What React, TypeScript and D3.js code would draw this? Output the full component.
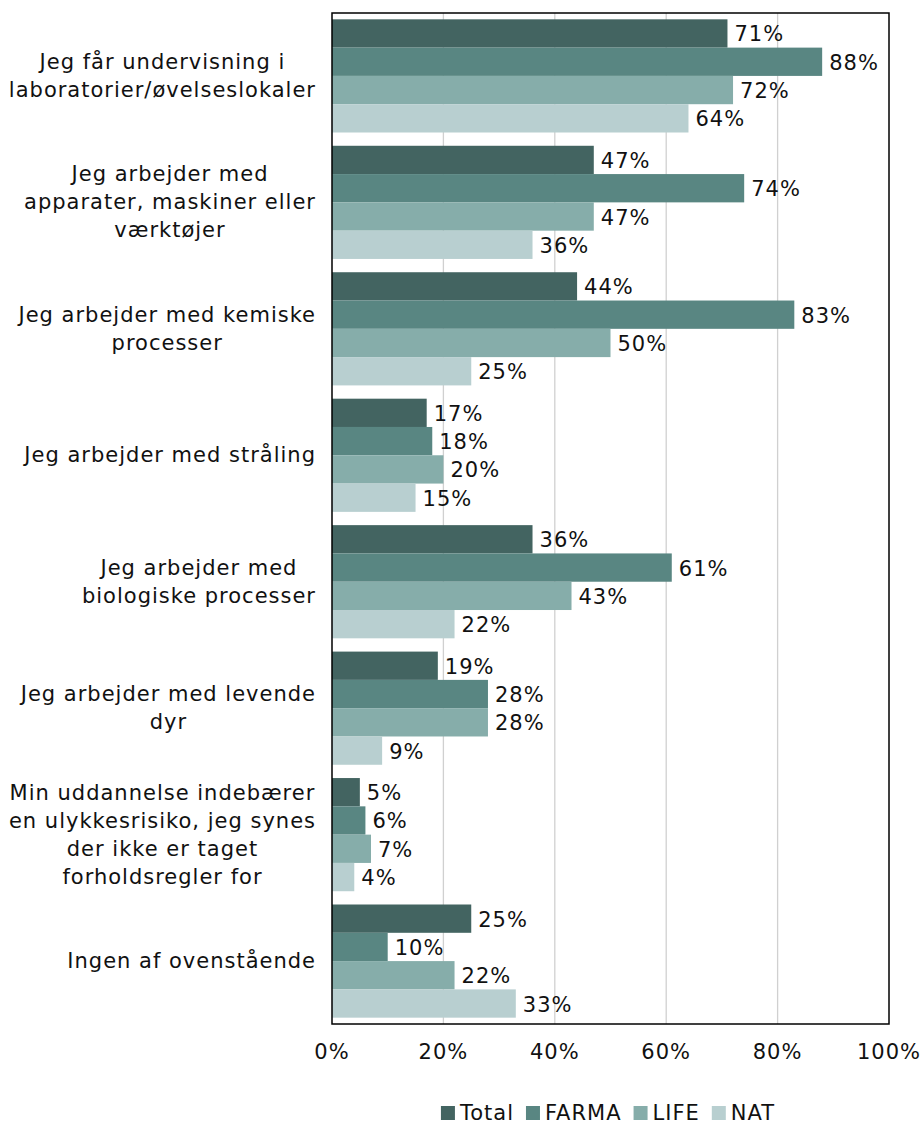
import React from "react";
import * as d3 from "d3";

const categories = [
  ["Jeg får undervisning i", "laboratorier/øvelseslokaler"],
  ["Jeg arbejder med", "apparater, maskiner eller", "værktøjer"],
  ["Jeg arbejder med kemiske", "processer"],
  ["Jeg arbejder med stråling"],
  ["Jeg arbejder med", "biologiske processer"],
  ["Jeg arbejder med levende", "dyr"],
  ["Min uddannelse indebærer", "en ulykkesrisiko, jeg synes", "der ikke er taget", "forholdsregler for"],
  ["Ingen af ovenstående"],
];
const seriesNames = ["Total", "FARMA", "LIFE", "NAT"];
const totalValues = [71, 47, 44, 17, 36, 19, 5, 25];
const farmaValues = [88, 74, 83, 18, 61, 28, 6, 10];
const lifeValues = [72, 47, 50, 20, 43, 28, 7, 22];
const natValues = [64, 36, 25, 15, 22, 9, 4, 33];
const xTicks = [0, 20, 40, 60, 80, 100];

const colors = ["#436461", "#598682", "#86adaa", "#b8cfd0"];
const FONT = "DejaVu Sans";
const FS = 21;
const LS = 1.0;

function measure(t: string) {
  const c = document.createElement("canvas").getContext("2d")!;
  c.font = `${FS}px "${FONT}"`;
  return c.measureText(t).width + LS * t.length;
}

export default function App() {
  const W = 924, H = 1124;
  const left = 332, right = 889, top = 13, bottom = 1024;
  const series = [totalValues, farmaValues, lifeValues, natValues];
  const x = d3.scaleLinear().domain([0, 100]).range([left, right]);
  const y0 = d3.scaleBand<number>().domain(d3.range(categories.length)).range([top, bottom]).paddingInner(0.105).paddingOuter(0.05);
  const y1 = d3.scaleBand<number>().domain(d3.range(seriesNames.length)).range([0, y0.bandwidth()]);
  const labelRight = 316;
  const lineH = 28;

  const sq = 14, gapSq = 5, gapItem = 12;
  const items = seriesNames.map((n) => ({ n, w: measure(n) }));
  const totalW = items.reduce((s, it) => s + sq + gapSq + it.w, 0) + gapItem * (items.length - 1);
  let lx = 608 - totalW / 2;
  const legendY = 1113;

  return (
    <svg width={W} height={H} style={{ position: "absolute", left: 0, top: 0 }} fontFamily={FONT} fontSize={FS} letterSpacing={LS}>
      <rect width={W} height={H} fill="#fff" />
      {xTicks.slice(1, -1).map((t) => (
        <line key={t} x1={x(t)} x2={x(t)} y1={top} y2={bottom} stroke="#d0d0d0" strokeWidth={1.3} />
      ))}
      {categories.map((_, ci) =>
        series.map((vals, si) => {
          const yy = y0(ci)! + y1(si)!;
          const v = vals[ci];
          return (
            <g key={`${ci}-${si}`}>
              <rect x={x(0)} y={yy} width={x(v) - x(0)} height={y1.bandwidth()} fill={colors[si]} />
              <text x={x(v) + 7} y={yy + y1.bandwidth() / 2 + 1} dominantBaseline="central" fill="#111">
                {v}%
              </text>
            </g>
          );
        })
      )}
      <rect x={left} y={top} width={right - left} height={bottom - top} fill="none" stroke="#000" strokeWidth={1.5} />
      {categories.map((lines, ci) => {
        const widths = lines.map(measure);
        const maxW = Math.max(...widths);
        const cx = labelRight - maxW / 2;
        const cy = y0(ci)! + y0.bandwidth() / 2;
        const startY = cy - ((lines.length - 1) * lineH) / 2;
        return (
          <g key={ci}>
            {lines.map((l, li) => (
              <text key={li} x={cx} y={startY + li * lineH} textAnchor="middle" dominantBaseline="central" fill="#111">
                {l}
              </text>
            ))}
          </g>
        );
      })}
      {xTicks.map((t) => (
        <text key={t} x={x(t)} y={1052} textAnchor="middle" dominantBaseline="central" fill="#111">
          {t}%
        </text>
      ))}
      {items.map((it, i) => {
        const gx = lx;
        lx += sq + gapSq + it.w + gapItem;
        return (
          <g key={it.n}>
            <rect x={gx} y={legendY - sq / 2} width={sq} height={sq} fill={colors[i]} />
            <text x={gx + sq + gapSq} y={legendY} dominantBaseline="central" fill="#111">
              {it.n}
            </text>
          </g>
        );
      })}
    </svg>
  );
}
